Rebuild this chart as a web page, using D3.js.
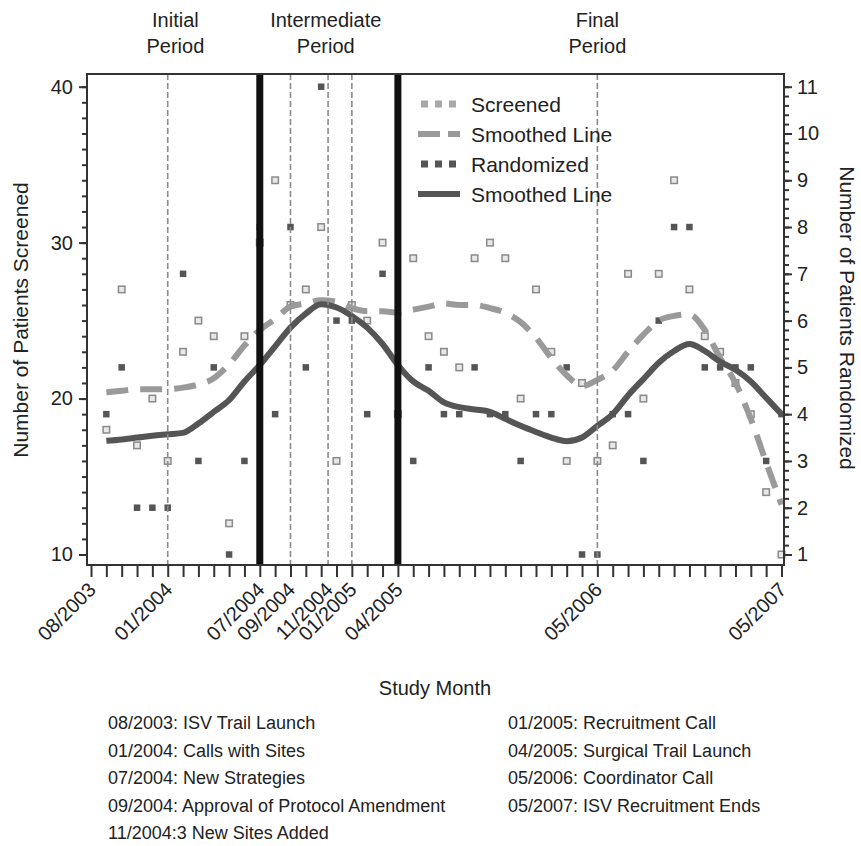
<!DOCTYPE html>
<html>
<head>
<meta charset="utf-8">
<script src="https://cdn.jsdelivr.net/npm/d3@7"></script>
<style>
  body { margin: 0; background: #fff; }
  svg { font-family: Arial, "Liberation Sans", Helvetica, sans-serif; }
</style>
</head>
<body>
<script>
// monthly counts, month 1 = 09/2003 ... month 45 = 05/2007
const screened = [18, 27, 17, 20, 16, 23, 25, 24, 12, 24, 30, 34, 26, 27, 31, 16, 26, 25, 30, 19,
  29, 24, 23, 22, 29, 30, 29, 20, 27, 23, 16, 21, 16, 17, 28, 20, 28, 34, 27, 24, 23, 21, 19, 14, 10];
const randomized = [4, 5, 2, 2, 2, 7, 3, 5, 1, 3, 8, 4, 8, 5, 11, 6, 6, 4, 7, 4,
  3, 5, 4, 4, 5, 4, 4, 3, 4, 4, 5, 1, 1, 4, 4, 3, 6, 8, 8, 5, 5, 5, 5, 3, 4];
// smoothed lines
const screenedSmooth = [20.4, 20.5, 20.6, 20.6, 20.6, 20.7, 20.9, 21.3, 22.2, 23.4, 24.4, 25.1, 25.9, 26.1, 26.3,
  26.2, 25.8, 25.6, 25.6, 25.5, 25.7, 25.9, 26.1, 26.0, 26.0, 25.8, 25.5, 24.9, 23.9, 22.6,
  21.5, 20.8, 21.2, 21.8, 23.0, 24.1, 25.0, 25.3, 25.4, 24.4, 22.6, 21.0, 18.7, 15.9, 13.2];
const randomizedSmooth = [3.43, 3.46, 3.5, 3.54, 3.57, 3.6, 3.8, 4.05, 4.3, 4.7, 5.05, 5.45, 5.85, 6.15, 6.35,
  6.28, 6.1, 5.85, 5.5, 5.05, 4.7, 4.5, 4.25, 4.15, 4.1, 4.05, 3.9, 3.75, 3.62, 3.5,
  3.42, 3.5, 3.75, 4.0, 4.4, 4.75, 5.1, 5.35, 5.5, 5.35, 5.12, 4.95, 4.7, 4.35, 4.0];

const labelMonths = [0, 5, 11, 13, 15.45, 17, 20, 33, 45];
const labelTexts = ["08/2003", "01/2004", "07/2004", "09/2004", "11/2004", "01/2005", "04/2005", "05/2006", "05/2007"];
const periodMonths = [11, 20];
const eventMonths = [5, 13, 15.45, 17, 33];

const periods = [
  {m: 5.5, text: ["Initial", "Period"]},
  {m: 15.3, text: ["Intermediate", "Period"]},
  {m: 33, text: ["Final", "Period"]}
];

const notesLeft = ["08/2003: ISV Trail Launch", "01/2004: Calls with Sites", "07/2004: New Strategies",
  "09/2004: Approval of Protocol Amendment", "11/2004:3 New Sites Added"];
const notesRight = ["01/2005: Recruitment Call", "04/2005: Surgical Trail Launch",
  "05/2006: Coordinator Call", "05/2007: ISV Recruitment Ends"];

const W = 861, H = 846;
const frame = {left: 87, top: 74, right: 784, bottom: 565};
const ink = "#222";

const svg = d3.select("body").append("svg")
  .attr("width", W)
  .attr("height", H);

const x = d3.scaleLinear().domain([0, 45]).range([91, 781.5]);
const yL = d3.scaleLinear().domain([10, 40]).range([554.5, 86.7]);
const yR = d3.scaleLinear().domain([1, 11]).range([554.5, 86.7]);

// points first, lines on top
const sq = 6.5;
svg.append("g").selectAll("rect")
  .data(screened)
  .join("rect")
  .attr("x", (d, i) => x(i + 1) - sq / 2)
  .attr("y", d => yL(d) - sq / 2)
  .attr("width", sq)
  .attr("height", sq)
  .attr("fill", "#e8e8e8")
  .attr("stroke", "#8a8a8a")
  .attr("stroke-width", 1.5);

svg.append("g").selectAll("rect")
  .data(randomized)
  .join("rect")
  .attr("x", (d, i) => x(i + 1) - sq / 2)
  .attr("y", d => yR(d) - sq / 2)
  .attr("width", sq)
  .attr("height", sq)
  .attr("fill", "#555");

svg.append("path")
  .datum(screenedSmooth)
  .attr("fill", "none")
  .attr("stroke", "#9a9a9a")
  .attr("stroke-width", 6)
  .attr("stroke-dasharray", "22,12")
  .attr("d", d3.line().curve(d3.curveMonotoneX).x((d, i) => x(i + 1)).y(d => yL(d)));

svg.append("path")
  .datum(randomizedSmooth)
  .attr("fill", "none")
  .attr("stroke", "#555")
  .attr("stroke-width", 6)
  .attr("d", d3.line().curve(d3.curveMonotoneX).x((d, i) => x(i + 1)).y(d => yR(d)));

// event lines
svg.append("g").selectAll("line")
  .data(eventMonths)
  .join("line")
  .attr("x1", d => x(d)).attr("x2", d => x(d))
  .attr("y1", frame.top).attr("y2", frame.bottom)
  .attr("stroke", "#8c8c8c")
  .attr("stroke-width", 1.6)
  .attr("stroke-dasharray", "6,3");

svg.append("g").selectAll("line")
  .data(periodMonths)
  .join("line")
  .attr("x1", d => x(d)).attr("x2", d => x(d))
  .attr("y1", frame.top).attr("y2", frame.bottom)
  .attr("stroke", "#111")
  .attr("stroke-width", 7);

svg.append("rect")
  .attr("x", frame.left).attr("y", frame.top)
  .attr("width", frame.right - frame.left)
  .attr("height", frame.bottom - frame.top)
  .attr("fill", "none")
  .attr("stroke", "#333")
  .attr("stroke-width", 2);

// axes
function styleAxis(g) {
  g.select(".domain").remove();
  g.selectAll(".tick line").attr("stroke", "#333").attr("stroke-width", 2);
  g.selectAll(".tick text").attr("fill", ink).style("font-size", "20px");
}

svg.append("g")
  .attr("transform", `translate(${frame.left},0)`)
  .call(d3.axisLeft(yL).tickValues(d3.range(10, 41)).tickSize(5).tickFormat(""))
  .call(styleAxis);
svg.append("g")
  .attr("transform", `translate(${frame.left},0)`)
  .call(d3.axisLeft(yL).tickValues([10, 20, 30, 40]).tickSize(8).tickPadding(6))
  .call(styleAxis);

svg.append("g")
  .attr("transform", `translate(${frame.right},0)`)
  .call(d3.axisRight(yR).ticks(50).tickSize(5).tickFormat(""))
  .call(styleAxis);
svg.append("g")
  .attr("transform", `translate(${frame.right},0)`)
  .call(d3.axisRight(yR).tickValues(d3.range(1, 12)).tickSize(8).tickPadding(5))
  .call(styleAxis);

svg.append("g")
  .attr("transform", `translate(0,${frame.bottom})`)
  .call(d3.axisBottom(x).tickValues(d3.range(0, 46)).tickSize(12).tickFormat(""))
  .call(styleAxis);

svg.append("g").selectAll("text")
  .data(labelMonths)
  .join("text")
  .attr("transform", d => `translate(${x(d) + 6},${frame.bottom + 26}) rotate(-45)`)
  .attr("text-anchor", "end")
  .attr("fill", ink)
  .style("font-size", "20px")
  .text((d, i) => labelTexts[i]);

// titles
svg.append("text")
  .attr("transform", "translate(28,320) rotate(-90)")
  .attr("text-anchor", "middle")
  .attr("fill", ink)
  .style("font-size", "21px")
  .text("Number of Patients Screened");

svg.append("text")
  .attr("transform", "translate(840,318) rotate(90)")
  .attr("text-anchor", "middle")
  .attr("fill", ink)
  .style("font-size", "21px")
  .text("Number of Patients Randomized");

svg.append("text")
  .attr("x", 435).attr("y", 695)
  .attr("text-anchor", "middle")
  .attr("fill", ink)
  .style("font-size", "20px")
  .text("Study Month");

const head = svg.append("g").selectAll("text")
  .data(periods)
  .join("text")
  .attr("text-anchor", "middle")
  .attr("fill", ink)
  .style("font-size", "20px");
head.append("tspan").attr("x", d => x(d.m)).attr("y", 27).text(d => d.text[0]);
head.append("tspan").attr("x", d => x(d.m)).attr("y", 53).text(d => d.text[1]);

// legend
const legend = svg.append("g").attr("transform", "translate(418,0)");
const rows = [104, 134, 164, 194];
[0, 14, 28].forEach(dx => {
  legend.append("rect").attr("x", dx + 3).attr("y", rows[0] - 3.5).attr("width", 7).attr("height", 7)
    .attr("fill", "#a8a8a8");
  legend.append("rect").attr("x", dx + 3).attr("y", rows[2] - 3.5).attr("width", 7).attr("height", 7)
    .attr("fill", "#555");
});
legend.append("line").attr("x1", 0).attr("x2", 42).attr("y1", rows[1]).attr("y2", rows[1])
  .attr("stroke", "#9a9a9a").attr("stroke-width", 6).attr("stroke-dasharray", "22,8");
legend.append("line").attr("x1", 0).attr("x2", 42).attr("y1", rows[3]).attr("y2", rows[3])
  .attr("stroke", "#555").attr("stroke-width", 6);
legend.selectAll("text.lab")
  .data(["Screened", "Smoothed Line", "Randomized", "Smoothed Line"])
  .join("text")
  .attr("x", 53)
  .attr("y", (d, i) => rows[i] + 7.5)
  .attr("fill", ink)
  .style("font-size", "21px")
  .text(d => d);

// notes
svg.append("g").selectAll("text")
  .data(notesLeft)
  .join("text")
  .attr("x", 108)
  .attr("y", (d, i) => 729 + i * 27.5)
  .attr("fill", ink)
  .style("font-size", "18px")
  .text(d => d);

svg.append("g").selectAll("text")
  .data(notesRight)
  .join("text")
  .attr("x", 508)
  .attr("y", (d, i) => 729 + i * 27.5)
  .attr("fill", ink)
  .style("font-size", "18px")
  .text(d => d);
</script>
</body>
</html>
